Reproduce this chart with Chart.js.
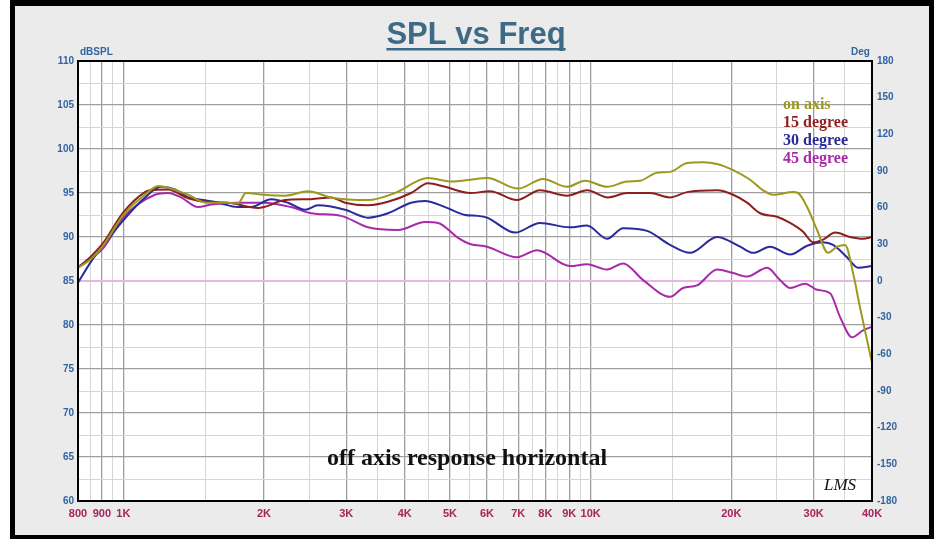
<!DOCTYPE html>
<html>
<head>
<meta charset="utf-8">
<script src="https://cdn.jsdelivr.net/npm/chart.js@4/dist/chart.umd.min.js"></script>
<style>
  html, body { margin: 0; padding: 0; background: #fff; }
  #wrap { position: absolute; left: 0; top: 0; width: 934px; height: 539px; }
</style>
</head>
<body>
<div id="wrap"><canvas id="c" width="934" height="539"></canvas></div>
<script>
// ---- data ----
const onAxisFreq = [800, 853, 905, 1000, 1113, 1187, 1246, 1376, 1502, 1675, 1759, 1830, 2000, 2219, 2484, 2783, 3339, 3815, 4488, 5026, 5521, 6003, 7000, 7909, 8905, 9729, 10842, 11966, 12763, 13871, 14793, 16078, 17401, 18649, 20177, 21941, 23392, 24564, 27118, 27792, 29051, 30515, 32214, 33680, 35033, 36435, 37705, 39029, 40000];
const onAxisSPL  = [86.5, 87.5, 89.0, 92.5, 94.8, 95.8, 95.6, 94.8, 93.9, 93.9, 93.8, 95.0, 94.8, 94.7, 95.2, 94.5, 94.2, 95.0, 96.7, 96.3, 96.5, 96.7, 95.5, 96.6, 95.7, 96.4, 95.7, 96.3, 96.4, 97.3, 97.4, 98.4, 98.5, 98.3, 97.6, 96.5, 95.3, 94.8, 95.1, 95.0, 93.4, 90.8, 88.2, 88.9, 89.1, 85.9, 82.0, 78.3, 75.7];

const deg15Freq = [800, 853, 905, 1000, 1113, 1141, 1246, 1376, 1502, 1675, 1943, 2000, 2219, 2521, 2783, 2982, 3339, 3685, 4128, 4488, 4880, 5521, 6092, 6958, 7793, 8905, 9822, 10890, 11966, 13400, 14793, 16078, 18649, 20177, 21617, 23049, 25050, 26720, 28484, 29923, 31428, 33352, 35898, 38270, 40000];
const deg15SPL  = [86.5, 87.8, 89.3, 92.8, 95.1, 95.3, 95.4, 94.4, 94.0, 93.9, 93.3, 93.4, 94.2, 94.3, 94.5, 93.9, 93.6, 94.0, 95.0, 96.1, 95.7, 95.0, 95.2, 94.2, 95.3, 94.7, 95.3, 94.5, 95.0, 95.0, 94.5, 95.1, 95.3, 94.8, 93.9, 92.7, 92.3, 91.6, 90.6, 89.4, 89.7, 90.5, 90.0, 89.8, 90.0];

const deg30Freq = [800, 853, 905, 1000, 1113, 1204, 1290, 1376, 1445, 1595, 1759, 1877, 2071, 2251, 2448, 2610, 2982, 3339, 3685, 4128, 4422, 4880, 5387, 5742, 6003, 6891, 7793, 9033, 9822, 10842, 11735, 13210, 14793, 16318, 18649, 20888, 22270, 24207, 26720, 29051, 31428, 33019, 35375, 37342, 40000];
const deg30SPL  = [84.8, 87.2, 89.0, 91.9, 94.5, 95.7, 95.4, 94.5, 94.3, 93.9, 93.4, 93.4, 94.3, 93.9, 93.1, 93.6, 93.1, 92.2, 92.7, 93.9, 94.1, 93.4, 92.5, 92.4, 92.2, 90.5, 91.6, 91.1, 91.3, 89.8, 91.0, 90.7, 89.1, 88.2, 90.0, 88.9, 88.2, 88.9, 88.0, 89.0, 89.4, 89.1, 87.7, 86.5, 86.7];

const deg45Freq = [800, 853, 905, 1000, 1169, 1246, 1329, 1445, 1541, 1759, 2000, 2284, 2521, 2923, 3339, 3872, 4422, 4714, 5204, 5521, 6003, 6958, 7679, 9033, 9822, 10842, 11735, 12952, 14793, 15771, 16893, 18649, 20177, 21617, 23856, 25429, 26720, 28767, 30515, 32534, 34180, 36256, 38270, 40000];
const deg45SPL  = [86.6, 87.6, 88.7, 92.2, 94.8, 95.0, 94.5, 93.4, 93.7, 93.9, 93.9, 93.4, 92.7, 92.4, 91.1, 90.8, 91.7, 91.6, 89.9, 89.2, 88.9, 87.7, 88.5, 86.7, 86.9, 86.3, 87.0, 85.1, 83.2, 84.2, 84.5, 86.3, 85.9, 85.5, 86.5, 85.1, 84.2, 84.7, 84.0, 83.6, 80.9, 78.6, 79.4, 79.8];

const refFreq = [800, 40000];
const refSPL  = [85, 85];

const seriesNames = ['on axis', '15 degree', '30 degree', '45 degree'];
const seriesColors = ['#9c9a1e', '#8e1f1f', '#2a2a9e', '#a82aa8'];

const xMajorTicks = [800, 900, 1000, 2000, 3000, 4000, 5000, 6000, 7000, 8000, 9000, 10000, 20000, 30000, 40000];
const xMinorTicks = [850, 950, 1500, 2500, 3500, 4500, 5500, 6500, 7500, 8500, 9500, 15000, 25000, 35000];
const xTickLabels = {800:'800', 900:'900', 1000:'1K', 2000:'2K', 3000:'3K', 4000:'4K', 5000:'5K', 6000:'6K', 7000:'7K', 8000:'8K', 9000:'9K', 10000:'10K', 20000:'20K', 30000:'30K', 40000:'40K'};

// ---- build ----
const pts = (fs, vs) => fs.map((f, i) => ({x: f, y: vs[i]}));
const allX = [...xMajorTicks, ...xMinorTicks].sort((a, b) => a - b);
const majorSet = new Set(xMajorTicks);

const SANS = "'Liberation Sans', Arial, sans-serif";
const SERIF = "'Liberation Serif', 'Times New Roman', serif";

const framePlugin = {
  id: 'frame',
  beforeDraw(chart) {
    const {ctx, chartArea: a} = chart;
    ctx.save();
    ctx.fillStyle = '#ffffff'; ctx.fillRect(0, 0, 934, 539);
    ctx.fillStyle = '#000000'; ctx.fillRect(10, 0, 924, 539);
    ctx.fillStyle = '#ebebeb'; ctx.fillRect(15, 6, 914, 529);
    ctx.fillStyle = '#ffffff'; ctx.fillRect(a.left, a.top, a.right - a.left, a.bottom - a.top);
    ctx.restore();
  },
  afterDatasetsDraw(chart) {
    const {ctx, chartArea: a} = chart;
    ctx.save();
    ctx.strokeStyle = '#000'; ctx.lineWidth = 2;
    ctx.strokeRect(a.left, a.top, a.right - a.left, a.bottom - a.top);
    ctx.restore();
  },
  afterDraw(chart) {
    const {ctx} = chart;
    ctx.save();
    // title
    ctx.fillStyle = '#3d6a86';
    ctx.font = "bold 31px " + SANS;
    ctx.textAlign = 'center'; ctx.textBaseline = 'alphabetic';
    const title = 'SPL vs Freq';
    ctx.fillText(title, 476, 44);
    const tw = ctx.measureText(title).width;
    ctx.fillRect(476 - tw / 2, 48, tw, 2.5);
    // axis units
    ctx.fillStyle = '#3164a2';
    ctx.font = "bold 10px " + SANS;
    ctx.textAlign = 'left'; ctx.textBaseline = 'middle';
    ctx.fillText('dBSPL', 80, 52);
    ctx.fillText('Deg', 851, 52);
    // legend
    ctx.font = "bold 16px " + SERIF;
    ctx.textAlign = 'left';
    const ly = [105, 123, 141, 159];
    seriesNames.forEach((n, i) => { ctx.fillStyle = seriesColors[i]; ctx.fillText(n, 783, ly[i]); });
    // annotation
    ctx.fillStyle = '#111';
    ctx.font = "bold 24px " + SERIF;
    ctx.textAlign = 'center';
    ctx.fillText('off axis response horizontal', 467, 459);
    ctx.font = "italic 17px " + SERIF;
    ctx.fillText('LMS', 840, 486);
    ctx.restore();
  }
};

const tickFontX = {family: SANS, size: 11, weight: 'bold'};
const tickFontY = {family: SANS, size: 10, weight: 'bold'};

new Chart(document.getElementById('c'), {
  type: 'line',
  data: {
    datasets: [
      {label: seriesNames[0], data: pts(onAxisFreq, onAxisSPL), borderColor: seriesColors[0]},
      {label: seriesNames[1], data: pts(deg15Freq, deg15SPL), borderColor: seriesColors[1]},
      {label: seriesNames[2], data: pts(deg30Freq, deg30SPL), borderColor: seriesColors[2]},
      {label: seriesNames[3], data: pts(deg45Freq, deg45SPL), borderColor: seriesColors[3]},
      {label: 'ref', data: pts(refFreq, refSPL), borderColor: '#e8b4e8', tension: 0}
    ]
  },
  options: {
    responsive: false,
    animation: false,
    events: [],
    layout: {padding: {top: 61, left: 0, right: 0, bottom: 0}},
    elements: {
      point: {radius: 0},
      line: {borderWidth: 2, tension: 0.35, cubicInterpolationMode: 'monotone', fill: false}
    },
    plugins: {legend: {display: false}, tooltip: {enabled: false}, title: {display: false}},
    scales: {
      x: {
        type: 'logarithmic', min: 800, max: 40000,
        afterBuildTicks: (s) => { s.ticks = allX.map(v => ({value: v})); },
        afterFit: (s) => { s.height = 38; },
        border: {display: false},
        grid: {
          drawTicks: false,
          color: (c) => majorSet.has(c.tick && c.tick.value) ? '#9e9e9e' : '#d6d6d6',
          lineWidth: (c) => majorSet.has(c.tick && c.tick.value) ? 1.3 : 1
        },
        ticks: {
          autoSkip: false, maxRotation: 0, minRotation: 0, padding: 6,
          color: '#a8235a', font: tickFontX,
          callback: (v) => xTickLabels[v] || ''
        }
      },
      y: {
        type: 'linear', position: 'left', min: 60, max: 110,
        afterFit: (s) => { s.width = 78; },
        border: {display: false},
        grid: {
          drawTicks: false,
          color: (c) => (c.tick && c.tick.value % 5 === 0) ? '#9e9e9e' : '#d6d6d6',
          lineWidth: (c) => (c.tick && c.tick.value % 5 === 0) ? 1.3 : 1
        },
        ticks: {
          stepSize: 2.5, autoSkip: false, padding: 4,
          color: '#3164a2', font: tickFontY,
          callback: (v) => (v % 5 === 0 ? String(v) : '')
        }
      },
      y2: {
        type: 'linear', position: 'right', min: -180, max: 180,
        afterFit: (s) => { s.width = 62; },
        border: {display: false},
        grid: {display: false, drawTicks: false},
        ticks: {
          stepSize: 30, autoSkip: false, padding: 5,
          color: '#3164a2', font: tickFontY
        }
      }
    }
  },
  plugins: [framePlugin]
});
</script>
</body>
</html>
